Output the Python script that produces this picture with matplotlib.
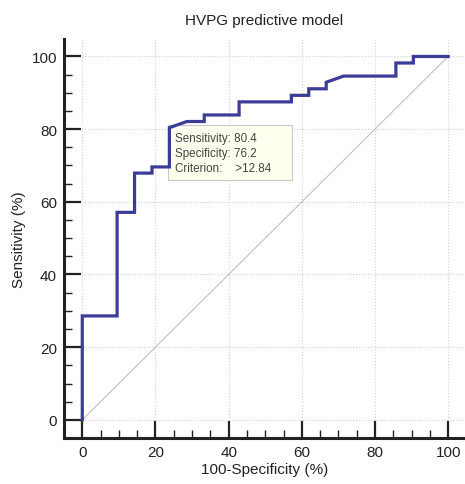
import matplotlib
matplotlib.use("Agg")
import matplotlib.pyplot as plt
from matplotlib.ticker import MultipleLocator

# ROC curve (21 negatives, 56 positives)
fpr = [0, 0, 9.52, 9.52, 14.29, 14.29, 19.05, 19.05, 23.81, 23.81, 28.57,
       33.33, 33.33, 42.86, 42.86, 57.14, 57.14, 61.90, 61.90, 66.67, 66.67,
       71.43, 85.71, 85.71, 90.48, 90.48, 100]
tpr = [0, 28.6, 28.6, 57.1, 57.1, 67.9, 67.9, 69.6, 69.6, 80.4, 82.1,
       82.1, 83.9, 83.9, 87.5, 87.5, 89.3, 89.3, 91.1, 91.1, 92.9,
       94.6, 94.6, 98.2, 98.2, 100, 100]

sensitivity = 80.4
specificity = 76.2
criterion = ">12.84"

plt.rcParams['font.family'] = ['Liberation Sans', 'DejaVu Sans']

fig = plt.figure(figsize=(4.65, 4.85), dpi=100)
ax = fig.add_axes([0.1376, 0.0948, 0.8624, 0.8227])

ax.plot([0, 100], [0, 100], color="#cdb9bd", lw=0.8, zorder=2)
ax.plot(fpr, tpr, color="#3b3b98", lw=2.3, solid_joinstyle="miter", zorder=3)

ax.text(25.3, 79.3,
        "Sensitivity: %.1f         \nSpecificity: %.1f\nCriterion:    %s" % (sensitivity, specificity, criterion),
        fontsize=8.4, color="#444444", va="top", ha="left", linespacing=1.35,
        bbox=dict(boxstyle="square,pad=0.55", fc="#fffff0", ec="#c8c8c8", lw=0.8),
        zorder=2.5)

ax.set_xlim(-5, 104.6)
ax.set_ylim(-5, 104.8)
ax.xaxis.set_minor_locator(MultipleLocator(5))
ax.yaxis.set_minor_locator(MultipleLocator(5))
ax.set_xticks([0, 20, 40, 60, 80, 100])
ax.set_yticks([0, 20, 40, 60, 80, 100])

ax.grid(True, which="major", color="#d0d0d0", ls=":", lw=0.8, zorder=0)

for s in ["top", "right"]:
    ax.spines[s].set_visible(False)
for s in ["left", "bottom"]:
    ax.spines[s].set_linewidth(2.2)
    ax.spines[s].set_color("#222222")

ax.tick_params(which="major", direction="in", length=12, width=1.6, color="#222222",
               labelsize=11, pad=5, labelcolor="#222222")
ax.tick_params(which="minor", direction="in", length=6, width=1.0, color="#222222")

ax.set_title("HVPG predictive model", fontsize=11, color="#222222", pad=11)
ax.set_xlabel("100-Specificity (%)", fontsize=11, color="#222222", labelpad=2)
ax.set_ylabel("Sensitivity (%)", fontsize=11, color="#222222", labelpad=4)

fig.savefig("out.png", dpi=100)
